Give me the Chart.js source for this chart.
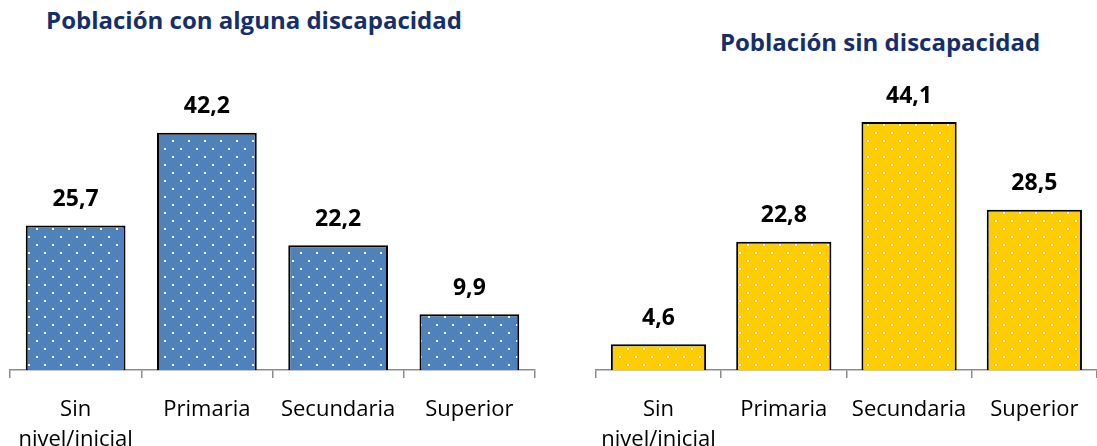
<!DOCTYPE html>
<html><head><meta charset="utf-8">
<script src="https://cdn.jsdelivr.net/npm/chart.js@4.4.1/dist/chart.umd.min.js"></script>
<style>
html,body{margin:0;padding:0;background:#fff}
body{width:1097px;height:446px;overflow:hidden;position:relative;font-family:"Open Sans",sans-serif}
.t{position:absolute;color:#142f6b;font-weight:bold;font-size:24px;white-space:nowrap;transform:translateX(-50%);line-height:28px}
#w1{position:absolute;left:0;top:0;width:548px;height:446px}
#w2{position:absolute;left:583px;top:0;width:514px;height:446px}
</style></head><body>
<div class="t" style="left:254px;top:6px">Población con alguna discapacidad</div>
<div class="t" style="left:880px;top:28px">Población sin discapacidad</div>
<div id="w1"><canvas id="c1"></canvas></div>
<div id="w2"><canvas id="c2"></canvas></div>
<script>
// Nivel educativo alcanzado (%)
const categories = [['Sin', 'nivel/inicial'], 'Primaria', 'Secundaria', 'Superior'];
const conDiscapacidad = [25.7, 42.2, 22.2, 9.9];
const sinDiscapacidad = [4.6, 22.8, 44.1, 28.5];

const FONT = '"Open Sans", sans-serif';

// dotted fill: white dots on a staggered grid
function dotted(base) {
  const c = document.createElement('canvas');
  c.width = 16; c.height = 16;
  const g = c.getContext('2d');
  g.fillStyle = base;
  g.fillRect(0, 0, 16, 16);
  g.fillStyle = '#ffffff';
  g.fillRect(4, 4, 2, 2);
  g.fillRect(12, 12, 2, 2);
  return g.createPattern(c, 'repeat');
}

const fmt = v => v.toFixed(1).replace('.', ',');

const valueLabels = {
  id: 'valueLabels',
  afterDatasetsDraw(chart) {
    const ctx = chart.ctx;
    const meta = chart.getDatasetMeta(0);
    const data = chart.data.datasets[0].data;
    ctx.save();
    ctx.font = 'bold 23px ' + FONT;
    ctx.fillStyle = '#000';
    ctx.textAlign = 'center';
    ctx.textBaseline = 'middle';
    meta.data.forEach((bar, i) => ctx.fillText(fmt(data[i]), bar.x, bar.y - 26));
    ctx.restore();
  }
};

function makeChart(id, values, color, padRight) {
  return new Chart(document.getElementById(id), {
    type: 'bar',
    data: {
      labels: categories,
      datasets: [{
        data: values,
        backgroundColor: dotted(color),
        borderColor: '#000',
        borderWidth: 2,
        categoryPercentage: 1,
        barPercentage: 0.76
      }]
    },
    options: {
      responsive: true,
      maintainAspectRatio: false,
      animation: false,
      layout: { padding: { left: 10, right: padRight, top: 63, bottom: 0 } },
      plugins: { legend: { display: false }, tooltip: { enabled: false } },
      scales: {
        x: {
          afterFit(scale) { scale.height = 76; },
          grid: { display: true, drawOnChartArea: false, drawTicks: true, tickLength: 8, color: '#8c8c8c', lineWidth: 1.5, offset: true },
          border: { display: true, color: '#8c8c8c', width: 1.5 },
          ticks: { color: '#000', padding: 17, maxRotation: 0, font: { family: FONT, size: 22, lineHeight: 1.36 } }
        },
        y: { display: false, min: 0, max: 54.6 }
      }
    },
    plugins: [valueLabels]
  });
}

makeChart('c1', conDiscapacidad, '#4f81bd', 13);
makeChart('c2', sinDiscapacidad, '#ffcc00', 0);
</script>
</body></html>
